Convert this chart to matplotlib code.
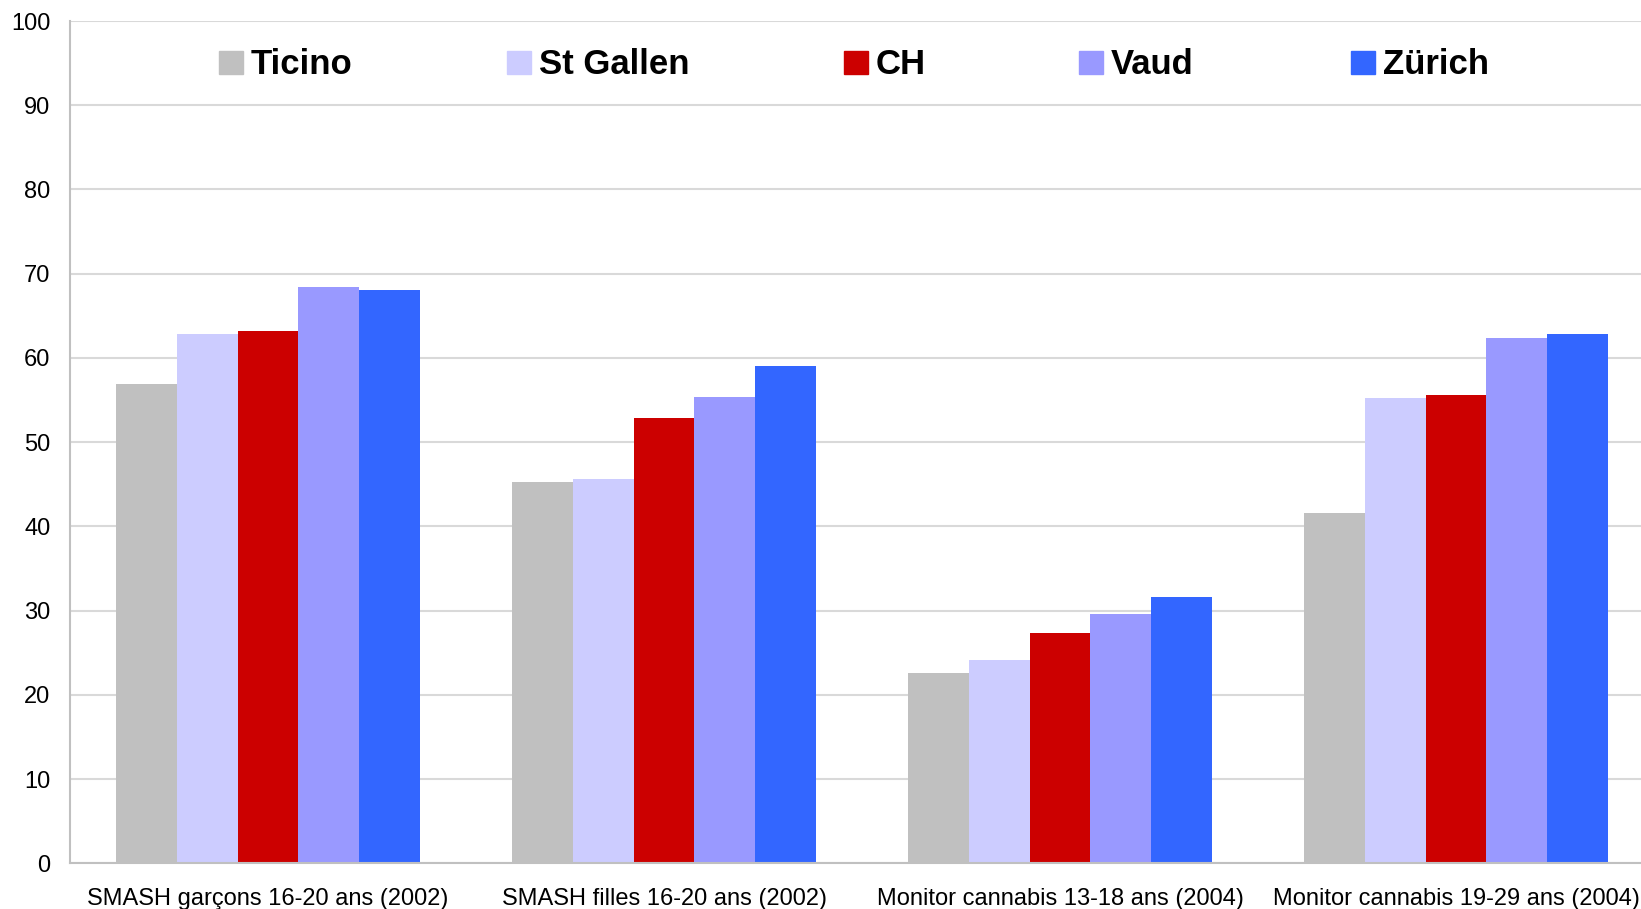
import matplotlib
matplotlib.use("Agg")
import matplotlib.pyplot as plt
from matplotlib.patches import Rectangle
import numpy as np

plt.rcParams["font.family"] = ["Liberation Sans", "DejaVu Sans"]

# Données
categories = [
    "SMASH garçons 16-20 ans (2002)",
    "SMASH filles 16-20 ans (2002)",
    "Monitor cannabis 13-18 ans (2004)",
    "Monitor cannabis 19-29 ans (2004)",
]
series_names = ["Ticino", "St Gallen", "CH", "Vaud", "Zürich"]
ticino = [56.9, 45.3, 22.6, 41.6]
st_gallen = [62.8, 45.6, 24.1, 55.2]
ch = [63.2, 52.9, 27.3, 55.6]
vaud = [68.4, 55.4, 29.6, 62.4]
zurich = [68.1, 59.0, 31.6, 62.8]
yticks = [0, 10, 20, 30, 40, 50, 60, 70, 80, 90, 100]

series_values = [ticino, st_gallen, ch, vaud, zurich]
colors = ["#c0c0c0", "#ccccff", "#cc0000", "#9999ff", "#3366ff"]

W, H = 1641, 909
fig = plt.figure(figsize=(W / 100, H / 100), dpi=100)
ax = fig.add_axes([70 / W, (H - 863.3) / H, 1584 / W, (863.3 - 21) / H])

x = np.arange(len(categories))
bar_w = 0.154
for i, (vals, col) in enumerate(zip(series_values, colors)):
    ax.bar(x + (i - 2) * bar_w, vals, width=bar_w, color=col, zorder=3)

ax.set_xlim(-0.5, len(categories) - 0.5)
ax.set_ylim(0, 100)
ax.set_yticks(yticks)
ax.set_yticklabels([str(t) for t in yticks], fontsize=17)
ax.set_xticks(x)
ax.set_xticklabels(categories, fontsize=17)
ax.tick_params(axis="y", length=0, pad=14)
ax.tick_params(axis="x", length=0, pad=18)
ax.grid(axis="y", color="#d9d9d9", linewidth=1.5, zorder=0)
for side in ["top", "right"]:
    ax.spines[side].set_visible(False)
for side in ["left", "bottom"]:
    ax.spines[side].set_color("#c0c0c0")
    ax.spines[side].set_linewidth(1.5)
    ax.spines[side].set_zorder(4)

# Légende manuelle (espacement irrégulier comme dans l'original)
legend_x = [219, 507, 844, 1079, 1351]
for lx, name, col in zip(legend_x, series_names, colors):
    fig.patches.append(Rectangle((lx / W, (H - 74) / H), 24 / W, 23 / H,
                                 transform=fig.transFigure, color=col))
    fig.text((lx + 32) / W, (H - 65) / H, name, fontsize=25, fontweight="bold",
             va="center", ha="left")

fig.savefig("out.png", dpi=100)
